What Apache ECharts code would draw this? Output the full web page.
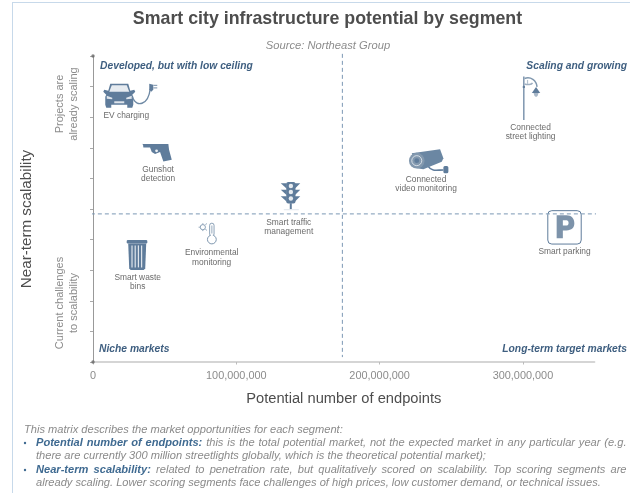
<!DOCTYPE html>
<html>
<head>
<meta charset="utf-8">
<script src="https://cdn.jsdelivr.net/npm/echarts@6/dist/echarts.min.js"></script>
<style>
html,body{margin:0;padding:0;background:#fff;}
#main{width:630px;height:493px;}
</style>
</head>
<body>
<div id="main"></div>
<script>
// 数据
const segmentNames = ['EV charging', 'Gunshot\ndetection', 'Smart traffic\nmanagement', 'Connected\nvideo monitoring',
    'Connected\nstreet lighting', 'Smart parking', 'Environmental\nmonitoring', 'Smart waste\nbins'];
const endpoints = [26000000, 44000000, 138000000, 234500000, 306000000, 329000000, 80000000, 30500000];
const scalability = [8.7, 6.86, 5.45, 6.57, 8.63, 4.4, 4.2, 3.5];
const xTicks = [0, 100000000, 200000000, 300000000];
const yTicks = [0, 1, 2, 3, 4, 5, 6, 7, 8, 9, 10];
const xSplit = 174000000;
const ySplit = 4.84;

const iconColor = '#5f7c9b';
const paleColor = '#dfe5ec';
const labelColor = '#6b6b6b';
const headColor = '#3f5f80';

// 图标 (relative to the point)
function evIcon(){
    return [
        {type:'polygon', shape:{points:[[-22,-5],[-20,-12],[-2,-12],[0,-5],[4,-6],[5,-4],[2,-1],[3,1],[3,9],[2,12],[-3,12],[-3,9],[-19,9],[-19,12],[-24,12],[-25,9],[-25,1],[-24,-1],[-27,-4],[-26,-6]]}, style:{fill:iconColor}},
        {type:'polygon', shape:{points:[[-21,-4],[-18.5,-10.5],[-3.5,-10.5],[-1,-4]]}, style:{fill:'#e6ebf0'}},
        {type:'polygon', shape:{points:[[-23.5,0],[-18,2],[-18,3.5],[-23.5,3]]}, style:{fill:paleColor}},
        {type:'polygon', shape:{points:[[1.5,0],[-4,2],[-4,3.5],[1.5,3]]}, style:{fill:paleColor}},
        {type:'rect', shape:{x:-16,y:5.5,width:10,height:2}, style:{fill:paleColor}},
        {type:'bezierCurve', shape:{x1:2,y1:1,x2:20,y2:-7,cpx1:6,cpy1:12,cpx2:18,cpy2:10}, style:{stroke:'#6f8aa5',fill:null,lineWidth:1.4}},
        {type:'polygon', shape:{points:[[19,-12],[23,-11],[23,-6],[21,-4],[19,-6]]}, style:{fill:iconColor}},
        {type:'rect', shape:{x:23,y:-11,width:4,height:1.2}, style:{fill:'#8da2b8'}},
        {type:'rect', shape:{x:23,y:-8.5,width:4,height:1.2}, style:{fill:'#8da2b8'}}
    ];
}
function gunIcon(){
    return [
        {type:'polygon', shape:{points:[[-14.3,-9],[-13.5,-8],[12.3,-8],[13,-2.3],[15.7,7.7],[7.3,9.3],[4,0],[-1,2],[-4.3,0],[-6,-4.7],[-12.7,-4.7],[-13,-7]]}, style:{fill:iconColor}},
        {type:'circle', shape:{cx:0.5,cy:-1.3,r:1.4}, style:{fill:'#eef1f4'}}
    ];
}
function trafficIcon(){
    const items = [];
    [-12,-5.5,1].forEach(function(t){
        items.push({type:'polygon', shape:{points:[[-10,t],[-4,t],[-4,t+5.5]]}, style:{fill:iconColor}});
        items.push({type:'polygon', shape:{points:[[9.5,t],[4,t],[4,t+5.5]]}, style:{fill:iconColor}});
    });
    items.push({type:'rect', shape:{x:-4.5,y:-13.3,width:9.2,height:21.6,r:2}, style:{fill:iconColor}});
    items.push({type:'rect', shape:{x:-1,y:8,width:2,height:6}, style:{fill:iconColor}});
    items.push({type:'rect', shape:{x:-7,y:14,width:15,height:1}, style:{fill:paleColor}});
    [-9.3,-3.3,3.3].forEach(function(cy){
        items.push({type:'circle', shape:{cx:0.1,cy:cy,r:2.2}, style:{fill:'#e6ebf0'}});
    });
    return items;
}
function cameraIcon(){
    return [
        {type:'bezierCurve', shape:{x1:-0.7,y1:5.7,x2:14.3,y2:9,cpx1:3,cpy1:11,cpx2:8,cpy2:9}, style:{stroke:iconColor,fill:null,lineWidth:1.6}},
        {type:'rect', shape:{x:14.3,y:5,width:5,height:7.3,r:1.5}, style:{fill:iconColor}},
        {type:'polygon', shape:{points:[[-17.3,-7.7],[11,-11.7],[14.3,-2.7],[12.7,0.7],[-5.7,8.3],[-12.3,7.3]]}, style:{fill:'#6b87a3'}},
        {type:'circle', shape:{cx:-12.3,cy:-0.3,r:7.8}, style:{fill:'#8298ae'}},
        {type:'circle', shape:{cx:-12.3,cy:-0.3,r:5}, style:{fill:null,stroke:paleColor,lineWidth:0.9}},
        {type:'circle', shape:{cx:-12.3,cy:-0.3,r:2.4}, style:{fill:iconColor}}
    ];
}
function lampIcon(){
    return [
        {type:'line', shape:{x1:-7.7,y1:-21.3,x2:-7.7,y2:22}, style:{stroke:iconColor,lineWidth:1.2}},
        {type:'circle', shape:{cx:-7.7,cy:-11,r:1.2}, style:{fill:iconColor}},
        {type:'bezierCurve', shape:{x1:-7,y1:-19.5,x2:5.5,y2:-11,cpx1:-1,cpy1:-21.5,cpx2:5,cpy2:-18}, style:{stroke:'#7f97ae',fill:null,lineWidth:1.5}},
        {type:'bezierCurve', shape:{x1:-7,y1:-14,x2:1,y2:-15,cpx1:-4,cpy1:-13,cpx2:0,cpy2:-13}, style:{stroke:'#9fb0c2',fill:null,lineWidth:1.5}},
        {type:'line', shape:{x1:-4,y1:-18,x2:-4,y2:-14}, style:{stroke:'#b6c3d0',lineWidth:1.2}},
        {type:'polygon', shape:{points:[[4.5,-11],[8.7,-5],[0.3,-5]]}, style:{fill:iconColor}},
        {type:'polygon', shape:{points:[[2,-5],[7,-5],[6,-2],[4.5,-1],[3,-2]]}, style:{fill:'#a9b8c8'}}
    ];
}
function parkingIcon(){
    return [
        {type:'rect', shape:{x:-16.7,y:-16.7,width:33.4,height:33.4,r:4}, style:{fill:'#fff',stroke:iconColor,lineWidth:1}},
        {type:'path', shape:{pathData:'M0 0 L11 0 C17 0 20 4 20 9 C20 14 17 17 11 17 L7 17 L7 26 L0 26 Z M7 5.5 L7 11.5 L10 11.5 C12 11.5 13.5 11 13.5 8.5 C13.5 6 12 5.5 10 5.5 Z',x:-8,y:-12,width:18,height:23}, style:{fill:'#7d93aa'}}
    ];
}
function thermoIcon(){
    const s = {stroke:'#6f8aa5', lineWidth:0.8};
    return [
        {type:'circle', shape:{cx:-4.8,cy:-6.3,r:2.6}, style:{fill:null,stroke:s.stroke,lineWidth:s.lineWidth}},
        {type:'line', shape:{x1:-9,y1:-6.3,x2:-7.8,y2:-6.3}, style:s},
        {type:'line', shape:{x1:-4.8,y1:-10.2,x2:-4.8,y2:-9.2}, style:s},
        {type:'line', shape:{x1:-4.8,y1:-3.4,x2:-4.8,y2:-2.4}, style:s},
        {type:'line', shape:{x1:-2.2,y1:-9,x2:-0.8,y2:-9.8}, style:s},
        {type:'line', shape:{x1:-2.2,y1:-4,x2:-0.8,y2:-3.2}, style:s},
        {type:'rect', shape:{x:2,y:-10.3,width:4.4,height:13,r:2.2}, style:{fill:'#fff',stroke:s.stroke,lineWidth:s.lineWidth}},
        {type:'circle', shape:{cx:4.2,cy:6,r:4.4}, style:{fill:'#fff',stroke:s.stroke,lineWidth:0.9}},
        {type:'rect', shape:{x:3.2,y:-8,width:2,height:11}, style:{fill:'#fff'}},
        {type:'rect', shape:{x:3.6,y:-8,width:1.2,height:8}, style:{fill:'#a9b8c8'}}
    ];
}
function binIcon(){
    const items = [
        {type:'rect', shape:{x:-10,y:-15,width:20.6,height:3.5,r:1.2}, style:{fill:iconColor}},
        {type:'polygon', shape:{points:[[-8.5,-11.5],[9.5,-11.5],[8.5,13.5],[7,15],[-6,15],[-7.5,13.5]]}, style:{fill:iconColor}}
    ];
    [-4.7,-1.5,1.7,4.9].forEach(function(x){
        items.push({type:'line', shape:{x1:x,y1:-9.5,x2:x,y2:12.5}, style:{stroke:paleColor,lineWidth:1.2}});
    });
    return items;
}
const iconDraw = [evIcon, gunIcon, trafficIcon, cameraIcon, lampIcon, parkingIcon, thermoIcon, binIcon];
const labelOffset = [[-4,15],[2,13],[-2,23],[-3,14],[-1,25],[0,20],[4,15],[1,18]];

function renderIcon(params, api){
    const i = api.value(2);
    const pos = api.coord([api.value(0), api.value(1)]);
    const children = iconDraw[i]();
    children.push({
        type:'text',
        x:labelOffset[i][0], y:labelOffset[i][1],
        style:{text:segmentNames[i], fill:labelColor, font:'8.4px "Liberation Sans"', align:'center', verticalAlign:'top', lineHeight:9.2}
    });
    return {type:'group', x:pos[0], y:pos[1], children:children};
}

// 底部文字
const footFont = 'italic 11.1px "Liberation Sans"';
const footBold = 'italic bold 11.1px "Liberation Sans"';
const footLines = [
    {y:430, x:24, runs:[['This matrix describes the market opportunities for each segment:', 0]]},
    {y:443, x:36, right:626.5, bullet:true, runs:[['Potential number of endpoints:', 1], ['this is the total potential market, not the expected market in any particular year (e.g.', 0]]},
    {y:456, x:36, runs:[['there are currently 300 million streetlights globally, which is the theoretical potential market);', 0]]},
    {y:470, x:36, right:626.5, bullet:true, runs:[['Near-term scalability:', 1], ['related to penetration rate, but qualitatively scored on scalability. Top scoring segments are', 0]]},
    {y:483, x:36, runs:[['already scaling. Lower scoring segments face challenges of high prices, low customer demand, or technical issues.', 0]]}
];
const measure = document.createElement('canvas').getContext('2d');
function footGraphics(){
    const out = [];
    footLines.forEach(function(line){
        let words = [];
        line.runs.forEach(function(run){
            run[0].split(' ').forEach(function(w){
                measure.font = run[1] ? footBold : footFont;
                words.push({t:w, b:run[1], w:measure.measureText(w).width});
            });
        });
        measure.font = footFont;
        let gap = measure.measureText(' ').width;
        if(line.right){
            const sum = words.reduce(function(a, b){ return a + b.w; }, 0);
            gap = (line.right - line.x - sum) / (words.length - 1);
        }
        let x = line.x;
        words.forEach(function(word){
            out.push({type:'text', x:x, y:line.y, style:{text:word.t, font:word.b ? footBold : footFont, fill:word.b ? '#3f6a91' : '#8a8a8a', verticalAlign:'middle'}});
            x += word.w + gap;
        });
        if(line.bullet){
            out.push({type:'circle', shape:{cx:25,cy:line.y,r:1.2}, style:{fill:'#3f6a91'}});
        }
    });
    return out;
}

function headText(text, x, y, align){
    return {type:'text', x:x, y:y, style:{text:text, font:'italic bold 10.3px "Liberation Sans"', fill:headColor, align:align, verticalAlign:'middle'}};
}
function sideText(text, y){
    return {type:'text', x:67, y:y, rotation:Math.PI/2, style:{text:text, font:'11px "Liberation Sans"', fill:'#8c8c8c', align:'center', verticalAlign:'middle', lineHeight:13.5}};
}

var myChart = echarts.init(document.getElementById('main'), null, {renderer:'canvas'});
var option = {
    animation:false,
    backgroundColor:'#fff',
    title:[
        {text:'Smart city infrastructure potential by segment', left:322.5, top:5, textAlign:'center',
            textStyle:{fontFamily:'Liberation Sans', fontSize:17.8, fontWeight:'bold', color:'#4d4d4d'}},
        {text:'Source: Northeast Group', left:323, top:35, textAlign:'center',
            textStyle:{fontFamily:'Liberation Sans', fontSize:11.2, fontStyle:'italic', fontWeight:'normal', color:'#8c8c8c'}}
    ],
    grid:{left:93, top:56, width:501.6, height:306},
    xAxis:{
        type:'value', min:0, max:350000000,
        name:'Potential number of endpoints', nameLocation:'middle', nameGap:29,
        nameTextStyle:{fontFamily:'Liberation Sans', fontSize:14.7, color:'#4d4d4d'},
        splitLine:{show:false},
        axisLine:{lineStyle:{color:'#c8c8c8', width:1.5}},
        axisTick:{customValues:xTicks, length:2.5, lineStyle:{color:'#bbb'}},
        axisLabel:{customValues:xTicks, margin:8.5, fontFamily:'Liberation Sans', fontSize:10.9, color:'#8c8c8c',
            formatter:function(v){ return v.toLocaleString('en-US'); }}
    },
    yAxis:{
        type:'value', min:0, max:10, interval:1,
        name:'Near-term scalability', nameLocation:'middle', nameGap:59,
        nameTextStyle:{fontFamily:'Liberation Sans', fontSize:15.2, color:'#4d4d4d', padding:[0,20,0,0]},
        splitLine:{show:false},
        axisLine:{lineStyle:{color:'#999', width:1}},
        axisTick:{length:3, lineStyle:{color:'#aaa'}},
        axisLabel:{show:false}
    },
    graphic:[
        {type:'line', shape:{x1:12.5,y1:3,x2:12.5,y2:493}, style:{stroke:'#c7d9ea',lineWidth:1}},
        {type:'line', shape:{x1:12,y1:2.5,x2:630,y2:2.5}, style:{stroke:'#c7d9ea',lineWidth:1}},
        sideText('Projects are\nalready scaling', 104),
        sideText('Current challenges\nto scalability', 303),
        headText('Developed, but with low ceiling', 100, 66, 'left'),
        headText('Scaling and growing', 627, 66, 'right'),
        headText('Niche markets', 99, 349, 'left'),
        headText('Long-term target markets', 627, 349, 'right')
    ].concat(footGraphics()),
    series:[
        {
            type:'line', silent:true, clip:false, symbol:'none',
            data:[[-1500000, ySplit], [351500000, ySplit]],
            lineStyle:{color:'#7b97b4', width:1, type:[4,3]}
        },
        {
            type:'line', silent:true, clip:false, symbol:'none',
            data:[[xSplit, 10.07], [xSplit, 0.16]],
            lineStyle:{color:'#7b97b4', width:1, type:[4,3]}
        },
        {
            type:'scatter', silent:true, clip:false, symbol:'circle', symbolSize:3.5,
            data:[[0, yTicks[0]], [0, yTicks[yTicks.length - 1]]],
            itemStyle:{color:'#666'}
        },
        {
            type:'custom', silent:true, clip:false,
            renderItem:renderIcon,
            encode:{x:0, y:1},
            data:endpoints.map(function(v, i){ return [v, scalability[i], i]; })
        }
    ]
};
myChart.setOption(option);
</script>
</body>
</html>
